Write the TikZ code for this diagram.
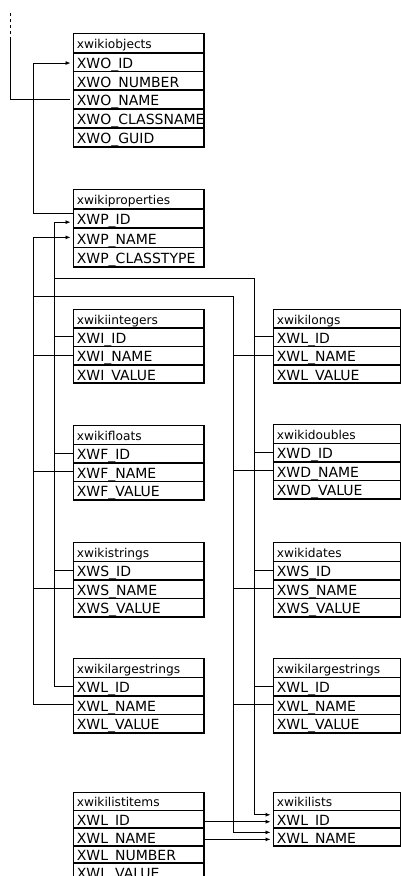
\documentclass[tikz,border=0pt]{standalone}
\usepackage{fontspec}
\newfontfamily\dvsans{DejaVu Sans}
\usetikzlibrary{arrows.meta,calc}
\newcommand\rowfont{\dvsans\fontsize{14}{16}\selectfont}
\newcommand\hdfont{\dvsans\fontsize{12.2}{14}\selectfont}
\tikzset{
  cell/.style={draw=black, line width=0.7pt, anchor=north west, inner xsep=3.5pt, inner ysep=0pt,
    font=\rowfont, text height=13.6pt, text depth=0pt,
    append after command={([yshift=-0.55pt]\tikzlastnode.south west) edge[line width=1.1pt] ([yshift=-0.55pt,xshift=1.1pt]\tikzlastnode.south east)
      ([xshift=0.55pt]\tikzlastnode.south east) edge[line width=1.1pt] ([xshift=0.55pt]\tikzlastnode.north east)}},
  hdcell/.style={cell, font=\hdfont, text height=11pt},
  conn/.style={draw=black, line width=0.8pt},
  arr/.style={conn, -{Latex[length=5pt,width=4pt]}, shorten >=2.5pt},
}
\newcommand\dbtable[7]{%
  \node[hdcell, minimum height=#5pt] (#1-0) at (#2,#3) {\makebox[#4pt][l]{#6}};
  \foreach \rowtxt [count=\i] in {#7} {
    \node[cell, minimum height=#5pt] (#1-\i) at (#2,#3+\i*#5) {\makebox[#4pt][l]{\rowtxt}};
  }%
}
\begin{document}
\begin{tikzpicture}[x=1pt,y=-1pt]
\useasboundingbox (0,0) rectangle (401,876);
% left column
\dbtable{obj}{73}{33}{123}{18.8}{xwikiobjects}{XWO\_ID,XWO\_NUMBER,XWO\_NAME,XWO\_CLASSNAME,XWO\_GUID}
\dbtable{prop}{73}{189}{123}{19.2}{xwikiproperties}{XWP\_ID,XWP\_NAME,XWP\_CLASSTYPE}
\dbtable{int}{73}{309}{123}{18.3}{xwikiintegers}{XWI\_ID,XWI\_NAME,XWI\_VALUE}
\dbtable{flt}{73}{425}{123}{18.5}{xwikifloats}{XWF\_ID,XWF\_NAME,XWF\_VALUE}
\dbtable{str}{73}{542}{123}{18.5}{xwikistrings}{XWS\_ID,XWS\_NAME,XWS\_VALUE}
\dbtable{lsl}{73}{658}{123}{18.5}{xwikilargestrings}{XWL\_ID,XWL\_NAME,XWL\_VALUE}
\dbtable{li}{73}{792}{123}{17.6}{xwikilistitems}{XWL\_ID,XWL\_NAME,XWL\_NUMBER,XWL\_VALUE}
% right column
\dbtable{lng}{273}{309}{120}{18.3}{xwikilongs}{XWL\_ID,XWL\_NAME,XWL\_VALUE}
\dbtable{dbl}{273}{424}{120}{18.5}{xwikidoubles}{XWD\_ID,XWD\_NAME,XWD\_VALUE}
\dbtable{dat}{273}{542}{120}{18.5}{xwikidates}{XWS\_ID,XWS\_NAME,XWS\_VALUE}
\dbtable{lsr}{273}{658}{120}{18.5}{xwikilargestrings}{XWL\_ID,XWL\_NAME,XWL\_VALUE}
\dbtable{lst}{273}{792}{120}{17.6}{xwikilists}{XWL\_ID,XWL\_NAME}
% connectors
\coordinate (d0) at (10,13);
\coordinate (d1) at (10,38);
\draw[conn, dash pattern=on 3pt off 3pt] (d0) -- (d1);
\draw[conn] (d1) |- ([xshift=-3pt]obj-3.west);
\draw[arr] ([yshift=5pt]prop-1.west) -- ++(-40,0) |- ([yshift=-1.5pt]obj-1.west);
\coordinate (jI) at (54,278);
\coordinate (jRI) at (254,278);
\coordinate (jN) at (33,296);
\coordinate (jRN) at (233,296);
\draw[arr] (jI) |- ([yshift=-4pt]prop-1.west);
\draw[arr] (jN) |- (prop-2.west);
\draw[conn] (lsl-1.west) -| (jI) -- (jRI);
\draw[conn] (lsl-2.west) -| (jN) -- (jRN);
\draw[arr] (jRI) |- ([yshift=4pt]lst-1.west);
\draw[arr] (jRN) |- ([yshift=4pt]lst-2.west);
\draw[arr] ([yshift=-3pt]li-1.east) -- ([yshift=-3pt]lst-1.west);
\draw[arr] ([yshift=-3pt]li-2.east) -- ([yshift=-3pt]lst-2.west);
\foreach \tn in {int,flt,str} {
  \draw[conn] (\tn-1.west) -- (\tn-1.west -| jI);
  \draw[conn] (\tn-2.west) -- (\tn-2.west -| jN);
}
\foreach \tn in {lng,dbl,dat,lsr} {
  \draw[conn] (\tn-1.west) -- (\tn-1.west -| jRI);
  \draw[conn] (\tn-2.west) -- (\tn-2.west -| jRN);
}
\end{tikzpicture}
\end{document}
